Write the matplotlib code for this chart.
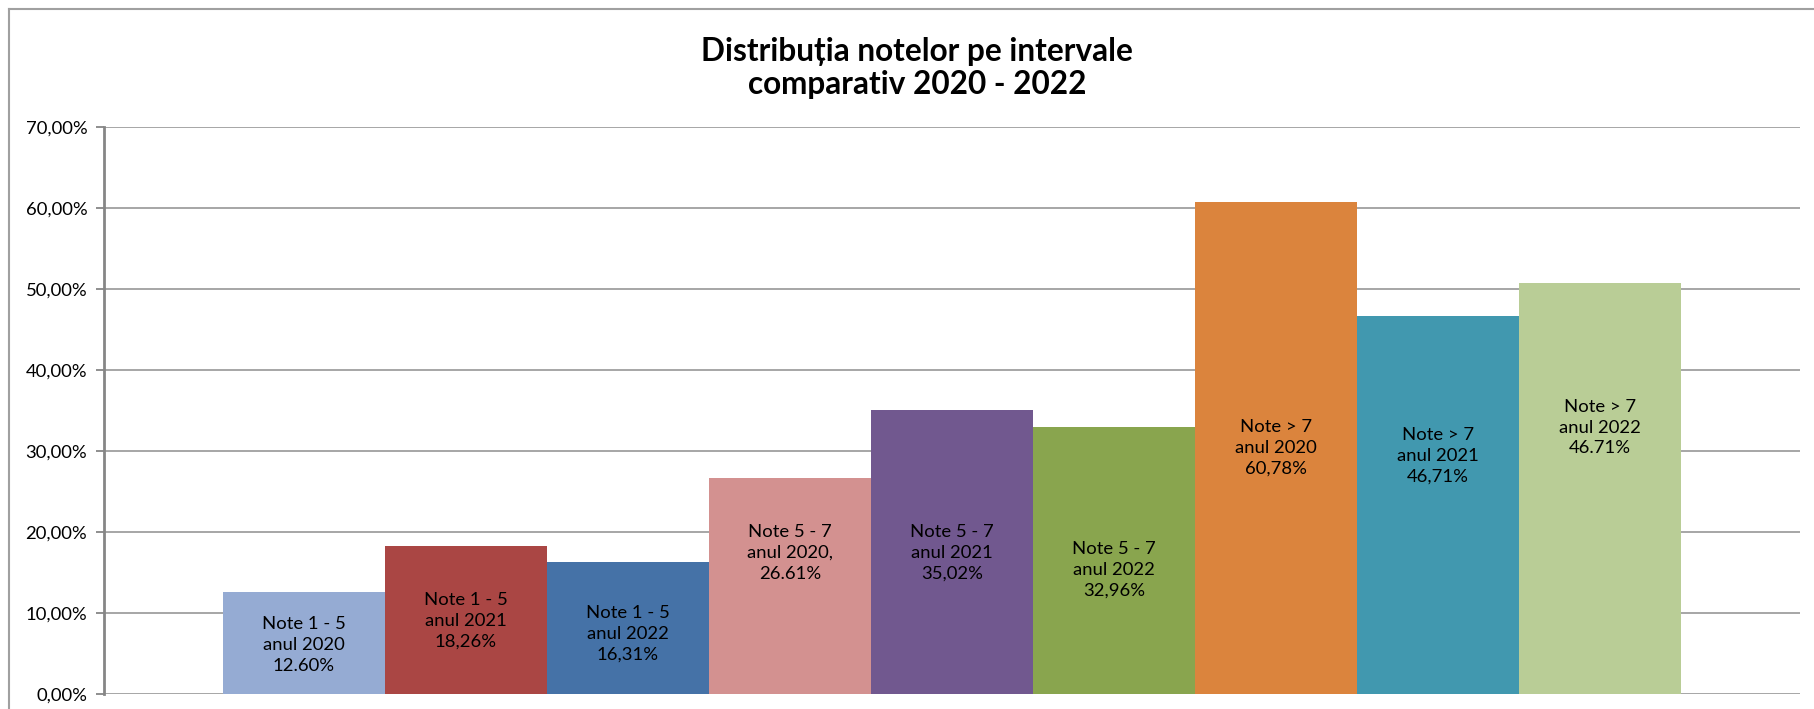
import numpy as np
import matplotlib.pyplot as plt
from matplotlib.lines import Line2D
from matplotlib.ticker import FuncFormatter

plt.rcParams['font.family'] = ['Lato', 'DejaVu Sans']

# Date
valori = [12.60, 18.26, 16.31, 26.61, 35.02, 32.96, 60.78, 46.71, 50.70]
etichete = [
    'Note 1 - 5\nanul 2020\n12.60%',
    'Note 1 - 5\nanul 2021\n18,26%',
    'Note 1 - 5\nanul 2022\n16,31%',
    'Note 5 - 7\nanul 2020,\n26.61%',
    'Note 5 - 7\nanul 2021\n35,02%',
    'Note 5 - 7\nanul 2022\n32,96%',
    'Note > 7\nanul 2020\n60,78%',
    'Note > 7\nanul 2021\n46,71%',
    'Note > 7\nanul 2022\n46.71%',
]
culori = ['#95abd3', '#aa4644', '#4572a7', '#d39190', '#71588f',
          '#89a54e', '#db843d', '#4198af', '#b9cd96']
# inaltimea (in %) la care sunt asezate etichetele
pozitie_eticheta = [6.1, 9.05, 7.45, 17.4, 17.4, 15.35, 30.35, 29.4, 32.9]
titlu = 'Distribuția notelor pe intervale\ncomparativ 2020 - 2022'

fig = plt.figure(figsize=(18.14, 7.09), dpi=100)
ax = fig.add_axes([104 / 1814, 15 / 709, 1696 / 1814, 567 / 709])

x = np.arange(len(valori))
ax.bar(x, valori, width=1.0, color=culori, zorder=2)

for xi, yi, txt in zip(x, pozitie_eticheta, etichete):
    ax.text(xi, yi, txt, ha='center', va='center', fontsize=13.3,
            linespacing=1.38, color='black', zorder=3)

ax.set_ylim(0, 70)
ax.set_xlim(-0.5 - 0.735, 8.5 + 0.735)
ax.set_yticks(np.arange(0, 71, 10))
ax.yaxis.set_major_formatter(FuncFormatter(lambda v, p: f'{v:.2f}%'.replace('.', ',')))
ax.set_xticks([])
ax.yaxis.grid(True, color='#a6a6a6', linewidth=1.4, zorder=0)
ax.tick_params(axis='y', length=6, width=1.3, color='#868686', labelsize=13.3, pad=6)

for s in ['top', 'right', 'bottom']:
    ax.spines[s].set_visible(False)
ax.spines['left'].set_color('#868686')
ax.spines['left'].set_linewidth(2)

# Titlul
fig.text(917 / 1814, 1 - 68 / 709, titlu, ha='center', va='center',
         fontsize=22.7, fontweight='bold', linespacing=1.2)

# Chenarul graficului
fig.add_artist(Line2D([9 / 1814, 9 / 1814], [0, 1 - 9 / 709], color='#a0a0a0', linewidth=1.5))
fig.add_artist(Line2D([9 / 1814, 1], [1 - 9 / 709, 1 - 9 / 709], color='#a0a0a0', linewidth=1.5))

fig.savefig('out.png', dpi=100)
